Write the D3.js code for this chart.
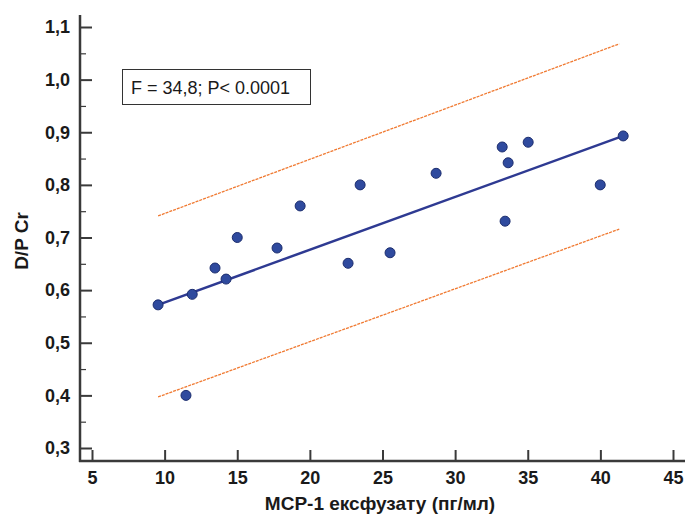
<!DOCTYPE html>
<html>
<head>
<meta charset="utf-8">
<script src="https://cdn.jsdelivr.net/npm/d3@7"></script>
<style>
	body { margin: 0; background: #fff; }
	text { font-family: "Liberation Sans", Arial, sans-serif; }
</style>
</head>
<body>
<div id="chart"></div>
<script>
(function() {
	// data
	var mcp = [9.55, 11.47, 11.9, 13.47, 14.23, 15.0, 17.74, 19.33, 22.63, 23.46, 25.52, 28.69, 33.24, 33.44, 33.65, 35.03, 39.99, 41.57];
	var dpcr = [0.572, 0.40, 0.592, 0.642, 0.621, 0.70, 0.68, 0.76, 0.651, 0.80, 0.671, 0.822, 0.872, 0.731, 0.842, 0.881, 0.80, 0.893];
	// regression line and the band round it (end points)
	var fitX = [9.55, 41.57];
	var fitY = [0.572, 0.893];
	var bandX = [9.55, 41.3];
	var upperY = [0.741, 1.068];
	var lowerY = [0.397, 0.716];
	var xTicks = [5, 10, 15, 20, 25, 30, 35, 40, 45];
	var yTicks = [0.3, 0.4, 0.5, 0.6, 0.7, 0.8, 0.9, 1.0, 1.1];
	var yMinor = [0.35, 0.45, 0.55, 0.65, 0.75, 0.85, 0.95, 1.05];
	var statText = "F = 34,8; P< 0.0001";

	var width = 685;
	var height = 517;
	var axisColor = "#3a3a3a";

	var svg = d3.select("#chart")
		.append("svg")
		.attr("width", width)
		.attr("height", height);

	var x = d3.scaleLinear().domain([5, 45]).range([92, 673]);
	var y = d3.scaleLinear().domain([0.3, 1.1]).range([448, 27]);

	var fmt = function(d) { return d3.format(".1f")(d).replace(".", ","); };

	// y axis
	var yAxis = svg.append("g")
		.attr("transform", "translate(80,0)")
		.call(d3.axisRight(y).tickValues(yTicks).tickSize(12).tickFormat(fmt));
	yAxis.select(".domain").remove();
	yAxis.selectAll(".tick line").attr("stroke", axisColor).attr("stroke-width", 2);
	yAxis.selectAll(".tick text")
		.attr("x", -10)
		.attr("text-anchor", "end")
		.attr("fill", "#1a1a1a")
		.style("font-size", "18px")
		.style("font-weight", "bold");

	var yAxisMinor = svg.append("g")
		.attr("transform", "translate(80,0)")
		.call(d3.axisRight(y).tickValues(yMinor).tickSize(6).tickFormat(""));
	yAxisMinor.select(".domain").remove();
	yAxisMinor.selectAll(".tick line").attr("stroke", axisColor).attr("stroke-width", 1.2);

	// x axis
	var xAxis = svg.append("g")
		.attr("transform", "translate(0,461)")
		.call(d3.axisBottom(x).tickValues(xTicks).tickSize(-11).tickPadding(10));
	xAxis.select(".domain").remove();
	xAxis.selectAll(".tick line").attr("stroke", axisColor).attr("stroke-width", 2);
	xAxis.selectAll(".tick text")
		.attr("fill", "#1a1a1a")
		.style("font-size", "18px")
		.style("font-weight", "bold");

	// axis lines
	svg.append("line")
		.attr("x1", 80).attr("x2", 80)
		.attr("y1", 15).attr("y2", 462)
		.attr("stroke", axisColor).attr("stroke-width", 2.5);
	svg.append("line")
		.attr("x1", 79).attr("x2", 685)
		.attr("y1", 461).attr("y2", 461)
		.attr("stroke", axisColor).attr("stroke-width", 2.5);

	// axis titles
	svg.append("text")
		.attr("x", 380)
		.attr("y", 510)
		.attr("text-anchor", "middle")
		.attr("fill", "#1a1a1a")
		.style("font-size", "19px")
		.style("font-weight", "bold")
		.text("MCP-1 ексфузату (пг/мл)");
	svg.append("text")
		.attr("transform", "translate(28,241) rotate(-90)")
		.attr("text-anchor", "middle")
		.attr("fill", "#1a1a1a")
		.style("font-size", "19px")
		.style("font-weight", "bold")
		.text("D/P Cr");

	// band lines
	var line = d3.line()
		.x(function(d) { return x(d[0]); })
		.y(function(d) { return y(d[1]); });
	[upperY, lowerY].forEach(function(band) {
		svg.append("path")
			.datum(d3.zip(bandX, band))
			.attr("d", line)
			.attr("fill", "none")
			.attr("stroke", "#f07a32")
			.attr("stroke-width", 1.3)
			.attr("stroke-dasharray", "3,1");
	});

	// fit line
	svg.append("path")
		.datum(d3.zip(fitX, fitY))
		.attr("d", line)
		.attr("fill", "none")
		.attr("stroke", "#2e3a92")
		.attr("stroke-width", 2.5);

	// points
	svg.append("g").selectAll("circle")
		.data(d3.zip(mcp, dpcr))
		.enter()
		.append("circle")
		.attr("cx", function(d) { return x(d[0]); })
		.attr("cy", function(d) { return y(d[1]); })
		.attr("r", 5)
		.attr("fill", "#2f4a9e")
		.attr("stroke", "#1c2d6e")
		.attr("stroke-width", 1);

	// stat box
	svg.append("rect")
		.attr("x", 122.5).attr("y", 69.5)
		.attr("width", 188).attr("height", 35)
		.attr("fill", "#fff")
		.attr("stroke", "#333")
		.attr("stroke-width", 1);
	svg.append("text")
		.attr("x", 131)
		.attr("y", 94)
		.attr("fill", "#1a1a1a")
		.style("font-size", "18px")
		.text(statText);
})();
</script>
</body>
</html>
